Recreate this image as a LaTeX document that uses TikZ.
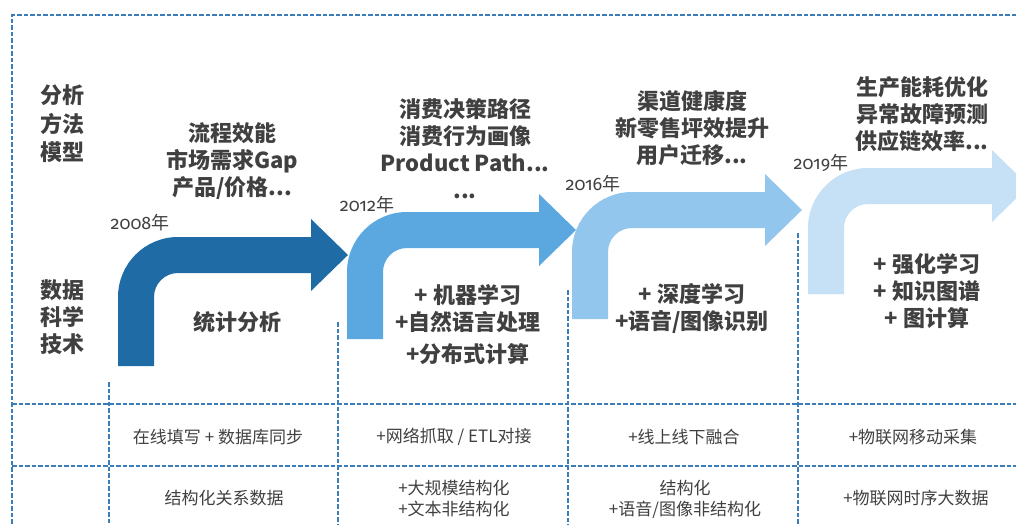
\documentclass[tikz,border=0pt]{standalone}
\usepackage{fontspec}
\setmainfont{Noto Sans CJK SC}
\newfontfamily\yearfont{Fira Sans}[Numbers=OldStyle]
\usepackage{xcolor}
\usepackage{tikz}

\definecolor{arrowA}{HTML}{1E6BA6}
\definecolor{arrowB}{HTML}{5BA8E0}
\definecolor{arrowC}{HTML}{93C6EC}
\definecolor{arrowD}{HTML}{C6E1F5}
\definecolor{gridblue}{HTML}{3B7DB8}
\definecolor{textgray}{HTML}{404040}

% bent arrow: #1 left x, #2 bottom y, #3 top y, #4 head base x, #5 colour
\newcommand{\bentarrow}[5]{%
  \fill[#5] (#1,#2) -- (#1,#3+60)
    .. controls (#1,#3+26.9) and (#1+26.9,#3) .. (#1+60,#3)
    -- (#4,#3) -- (#4,#3-18) -- (#4+37,#3+18) -- (#4,#3+54) -- (#4,#3+36)
    -- (#1+60,#3+36)
    .. controls (#1+46.7,#3+36) and (#1+36,#3+46.7) .. (#1+36,#3+60)
    -- (#1+36,#2) -- cycle;
}

\tikzset{
  gridline/.style={draw=gridblue, line width=1.6pt, dash pattern=on 4.5pt off 2pt},
  bigtext/.style={text=textgray, font=\fontsize{22}{27}\selectfont\bfseries, align=center, inner sep=0pt},
  celltext/.style={text=textgray, font=\fontsize{17}{21}\selectfont, align=center, inner sep=0pt},
  yeartext/.style={text=textgray, font=\fontsize{18}{20}\selectfont, inner sep=0pt},
}

\begin{document}
\begin{tikzpicture}[x=1pt, y=-1pt]
        \useasboundingbox (0,0) rectangle (1016,525);
        \clip (0,0) rectangle (1016,525);

        % Arrows
        \bentarrow{118}{366}{237}{311}{arrowA}
        \bentarrow{347}{339}{212}{539}{arrowB}
        \bentarrow{572}{319}{192}{765}{arrowC}
        \bentarrow{808}{294}{168}{992}{arrowD}

        % Frame and table lines
        \draw[gridline] (1016,15) -- (12,15) -- (12,525);
        \draw[gridline] (12,404) -- (1016,404);
        \draw[gridline] (12,466) -- (1016,466);
        \draw[gridline] (109,382) -- (109,525);
        \draw[gridline] (338,322) -- (338,525);
        \draw[gridline] (568,290) -- (568,525);
        \draw[gridline] (798,233) -- (798,525);

        % Row heads
        \node[bigtext, font=\fontsize{22}{28.5}\selectfont\bfseries] (methodhead) at (62,124) {分析\\方法\\模型};
        \node[bigtext, font=\fontsize{22}{27}\selectfont\bfseries] (techhead) at (62,317) {数据\\科学\\技术};

        % Years
        \node[yeartext] (year1) at (140,223) {{\yearfont 2008}年};
        \node[yeartext] (year2) at (367,205) {{\yearfont 2012}年};
        \node[yeartext] (year3) at (593,184) {{\yearfont 2016}年};
        \node[yeartext] (year4) at (821,163) {{\yearfont 2019}年};

        % Methods above the arrows
        \node[bigtext] (method1) at (232,161) {流程效能\\市场需求Gap\\产品/价格...};
        \node[bigtext] (method2) at (465,149) {消费决策路径\\消费行为画像\\Product Path...\\...};
        \node[bigtext] (method3) at (692,128) {渠道健康度\\新零售坪效提升\\用户迁移...};
        \node[bigtext] (method4) at (922,114) {生产能耗优化\\异常故障预测\\供应链效率...};

        % Techniques below the arrows
        \node[bigtext] (tech1) at (237,322) {统计分析};
        \node[bigtext] (tech2) at (468,325) {+ 机器学习\\+自然语言处理\\[5pt]+分布式计算};
        \node[bigtext] (tech3) at (692,308) {+ 深度学习\\+语音/图像识别};
        \node[bigtext] (tech4) at (927,291) {+ 强化学习\\+ 知识图谱\\+ 图计算};

        % Table cells
        \node[celltext] (collect1) at (218,437) {在线填写 + 数据库同步};
        \node[celltext] (collect2) at (454,437) {+网络抓取 / ETL对接};
        \node[celltext] (collect3) at (684,437) {+线上线下融合};
        \node[celltext] (collect4) at (913,437) {+物联网移动采集};
        \node[celltext] (data1) at (224,498) {结构化关系数据};
        \node[celltext] (data2) at (454,499) {+大规模结构化\\+文本非结构化};
        \node[celltext] (data3) at (685,499) {结构化\\+语音/图像非结构化};
        \node[celltext] (data4) at (916,498) {+物联网时序大数据};
    \end{tikzpicture}
\end{document}
